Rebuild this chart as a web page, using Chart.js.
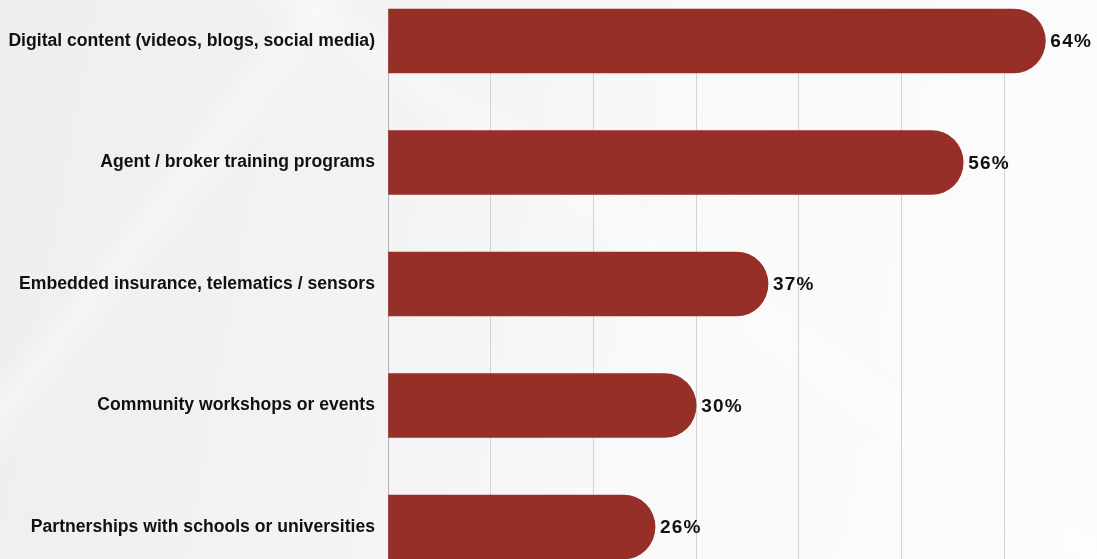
<!DOCTYPE html>
<html>
<head>
<meta charset="utf-8">
<script src="https://cdn.jsdelivr.net/npm/chart.js@4"></script>
<style>
  html, body {
    margin: 0;
    width: 1097px;
    height: 559px;
    overflow: hidden;
  }
  body {
    background:
      linear-gradient(128deg, rgba(255,255,255,0) 0%, rgba(255,255,255,0) 19%, rgba(255,255,255,0.35) 21%, rgba(255,255,255,0) 24%, rgba(255,255,255,0) 100%),
      linear-gradient(35deg, rgba(255,255,255,0) 55%, rgba(255,255,255,0.3) 58%, rgba(255,255,255,0) 61%),
      linear-gradient(100deg, #edeeef 0%, #f3f3f4 35%, #f9f9fa 60%, #fcfcfc 100%);
  }
  #wrap {
    position: absolute;
    left: 0;
    top: 0;
  }
</style>
</head>
<body>
<div id="wrap"><canvas id="bars" width="1107" height="559"></canvas></div>
<script>
// channels, share of respondents (%)
const categories = [
  'Digital content (videos, blogs, social media)',
  'Agent / broker training programs',
  'Embedded insurance, telematics / sensors',
  'Community workshops or events',
  'Partnerships with schools or universities'
];
const shares = [64, 56, 37, 30, 26];
const xTicks = [0, 10, 20, 30, 40, 50, 60, 70];

const barRed = '#952f27';
const labelFont = "'Liberation Sans', Arial, sans-serif";

// prints "NN%" just past the rounded end of each bar
const valueLabels = {
  id: 'valueLabels',
  afterDatasetsDraw(chart) {
    const { ctx } = chart;
    const meta = chart.getDatasetMeta(0);
    ctx.save();
    ctx.font = `bold 19px ${labelFont}`;
    ctx.letterSpacing = '1.2px';
    ctx.fillStyle = '#111111';
    ctx.textAlign = 'left';
    ctx.textBaseline = 'middle';
    meta.data.forEach((bar, i) => {
      ctx.fillText(`${shares[i]}%`, bar.x + 5, bar.y + 1);
    });
    ctx.restore();
  }
};

new Chart(document.getElementById('bars'), {
  type: 'bar',
  data: {
    labels: categories,
    datasets: [{
      data: shares,
      backgroundColor: barRed,
      borderWidth: 0,
      barThickness: 64,
      clip: false,
      borderSkipped: 'start',
      borderRadius: { topLeft: 32, topRight: 32, bottomLeft: 32, bottomRight: 32 },
    }],
  },
  options: {
    indexAxis: 'y',
    responsive: false,
    animation: false,
    devicePixelRatio: 1,
    layout: { padding: { top: 41, right: 0, bottom: 0, left: 0 } },
    plugins: {
      legend: { display: false },
      tooltip: { enabled: false },
    },
    scales: {
      x: {
        type: 'linear',
        position: 'bottom',
        min: 0,
        max: 70,
        afterBuildTicks(scale) {
          scale.ticks = xTicks.map(v => ({ value: v }));
        },
        ticks: { display: false },
        border: { display: false },
        grid: {
          color: ctx => (ctx.tick && ctx.tick.value === 0 ? '#b3b3b3' : '#d3d3d3'),
          lineWidth: 1,
          drawTicks: true,
          tickLength: 32,
        },
      },
      y: {
        type: 'category',
        offset: false,
        afterFit(scale) {
          scale.width = 388;
        },
        grid: { display: false, drawTicks: false },
        border: { display: true, color: '#b3b3b3', width: 1 },
        ticks: {
          color: '#111111',
          padding: 13,
          font: { family: labelFont, size: 17.6, weight: 'bold' },
        },
      },
    },
  },
  plugins: [valueLabels],
});
</script>
</body>
</html>
